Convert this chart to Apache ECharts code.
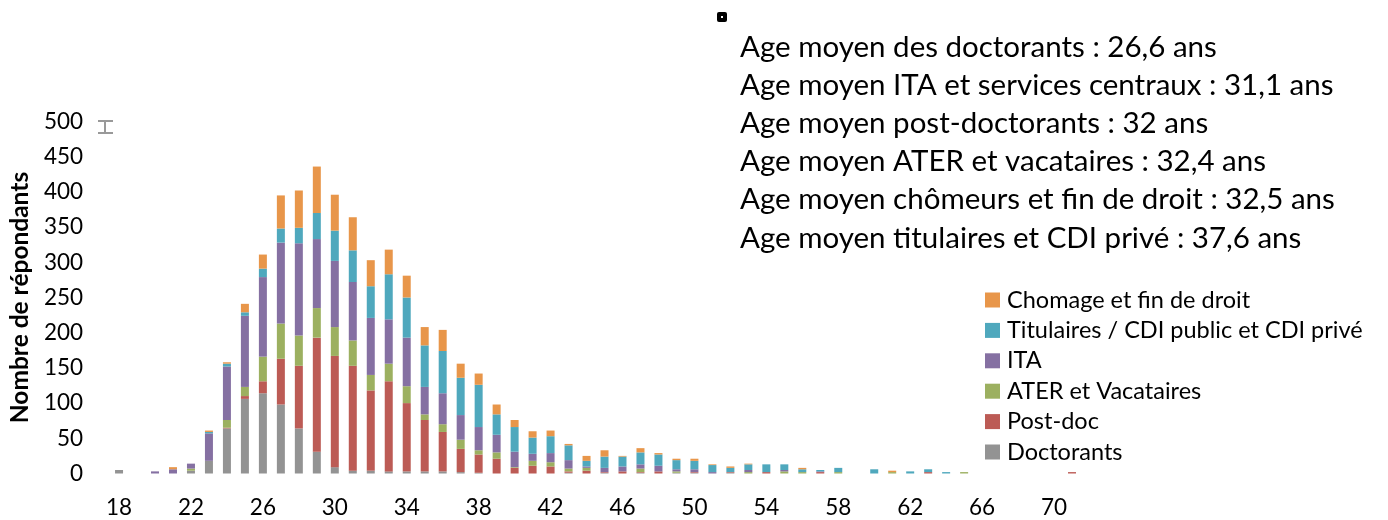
<!DOCTYPE html>
<html>
<head>
<meta charset="utf-8">
<script src="https://cdn.jsdelivr.net/npm/echarts@6/dist/echarts.min.js"></script>
<style>
  html, body { margin: 0; padding: 0; background: #fff; }
  #chart { width: 1388px; height: 520px; }
</style>
</head>
<body>
<div id="chart"></div>
<script>
// ages 18 -> 71
const AGES = [
  '18','19','20','21','22','23','24','25','26','27',
  '28','29','30','31','32','33','34','35','36','37',
  '38','39','40','41','42','43','44','45','46','47',
  '48','49','50','51','52','53','54','55','56','57',
  '58','59','60','61','62','63','64','65','66','67',
  '68','69','70','71'
];

const DOCTORANTS = [
  5,0,0,0,4,18,64,106,114,98,
  64,31,9,4,4,3,3,3,3,2,
  1,0,0,0,0,1,0,1,0,1,
  0,1,1,0,1,0,0,0,0,0,
  0,0,0,0,0,0,0,0,0,0,
  0,0,0,0
];
const POSTDOC = [
  0,0,0,0,0,0,1,4,17,65,
  89,162,158,149,114,128,97,73,56,33,
  26,21,8,11,10,2,4,1,3,1,
  3,0,1,0,1,0,2,0,0,2,
  0,0,0,0,0,2,0,0,0,0,
  0,0,0,2
];
const ATER = [
  0,0,0,0,3,0,11,13,35,50,
  43,42,41,36,22,25,24,8,11,13,
  6,9,1,7,6,4,4,0,0,5,
  0,2,0,0,0,2,0,3,2,0,
  2,0,0,2,0,0,0,2,0,0,
  0,0,0,0
];
const ITA = [
  0,0,3,6,7,39,76,101,113,115,
  131,98,94,83,81,63,69,39,44,35,
  33,25,22,10,13,12,2,6,7,6,
  8,3,4,2,0,3,0,2,0,1,
  0,0,0,0,0,0,0,0,0,0,
  0,0,0,0
];
const TITULAIRES = [
  0,0,0,0,0,2,4,5,12,20,
  22,37,43,45,45,64,57,59,60,53,
  60,29,35,23,24,21,8,16,14,17,
  16,13,12,10,6,8,11,8,4,2,
  6,0,6,0,3,4,2,0,0,0,
  0,0,0,0
];
const CHOMAGE = [
  0,0,0,3,0,2,2,12,20,47,
  53,66,51,47,37,35,31,26,30,20,
  16,14,10,9,8,2,7,9,1,6,
  2,2,3,1,2,1,0,0,2,0,
  0,0,0,2,0,0,0,0,0,0,
  0,0,0,0
];

const MOYENNES = [
  'Age moyen des doctorants : 26,6 ans',
  'Age moyen ITA et services centraux : 31,1 ans',
  'Age moyen post-doctorants : 32 ans',
  'Age moyen ATER et vacataires : 32,4 ans',
  'Age moyen chômeurs et fin de droit : 32,5 ans',
  'Age moyen titulaires et CDI privé : 37,6 ans'
];

const FONT = 'Lato, "Open Sans", sans-serif';

const chart = echarts.init(document.getElementById('chart'));

// une série empilée par statut
function barSerie(name, data, color) {
  return {
    name: name,
    type: 'bar',
    stack: 'total',
    barWidth: 8,
    data: data,
    itemStyle: { color: color },
    emphasis: { disabled: true }
  };
}

chart.setOption({
  animation: false,
  title: {
    text: MOYENNES.join('\n'),
    left: 740,
    top: 28,
    padding: 0,
    textStyle: {
      fontFamily: FONT,
      fontSize: 29.5,
      fontWeight: 'normal',
      color: '#000',
      lineHeight: 38.2
    }
  },
  legend: {
    orient: 'vertical',
    left: 985,
    top: 288,
    itemWidth: 15,
    itemHeight: 15,
    itemGap: 6.4,
    icon: 'rect',
    padding: 0,
    data: ['Chomage et fin de droit', 'Titulaires / CDI public et CDI privé', 'ITA',
           'ATER et Vacataires', 'Post-doc', 'Doctorants'],
    textStyle: { fontFamily: FONT, fontSize: 23.5, color: '#000', padding: [0, 0, 0, 2] }
  },
  grid: {
    left: 107,
    right: 307,
    top: 121.5,
    bottom: 46.5
  },
  xAxis: {
    type: 'category',
    data: AGES,
    axisLine: { show: false },
    axisTick: { show: false },
    axisLabel: {
      interval: 3,
      fontFamily: FONT,
      fontSize: 22.5,
      color: '#000',
      margin: 23
    }
  },
  yAxis: {
    type: 'value',
    min: 0,
    max: 500,
    interval: 50,
    name: 'Nombre de répondants',
    nameLocation: 'middle',
    nameGap: 76,
    nameTextStyle: { fontFamily: FONT, fontSize: 24.5, fontWeight: 'bold', color: '#000' },
    axisLine: { show: false },
    axisTick: { show: false },
    splitLine: { show: false },
    axisLabel: { fontFamily: FONT, fontSize: 22.5, color: '#000', margin: 27 }
  },
  graphic: [
    // petite puce noire en haut
    { type: 'rect', left: 717, top: 12, shape: { width: 10, height: 10, r: 2 }, style: { fill: '#000' } },
    { type: 'rect', left: 721, top: 16, shape: { width: 2, height: 2 }, style: { fill: '#fff' } },
    // marque grise près de 500
    { type: 'rect', left: 98, top: 120, shape: { width: 15, height: 2 }, style: { fill: '#999' } },
    { type: 'rect', left: 98, top: 132, shape: { width: 15, height: 2 }, style: { fill: '#999' } },
    { type: 'rect', left: 104, top: 120, shape: { width: 2, height: 14 }, style: { fill: '#999' } }
  ],
  series: [
    barSerie('Doctorants', DOCTORANTS, '#939393'),
    barSerie('Post-doc', POSTDOC, '#bc5b55'),
    barSerie('ATER et Vacataires', ATER, '#9cb060'),
    barSerie('ITA', ITA, '#8570a2'),
    barSerie('Titulaires / CDI public et CDI privé', TITULAIRES, '#4fa8bd'),
    barSerie('Chomage et fin de droit', CHOMAGE, '#e8964a')
  ]
});
</script>
</body>
</html>
